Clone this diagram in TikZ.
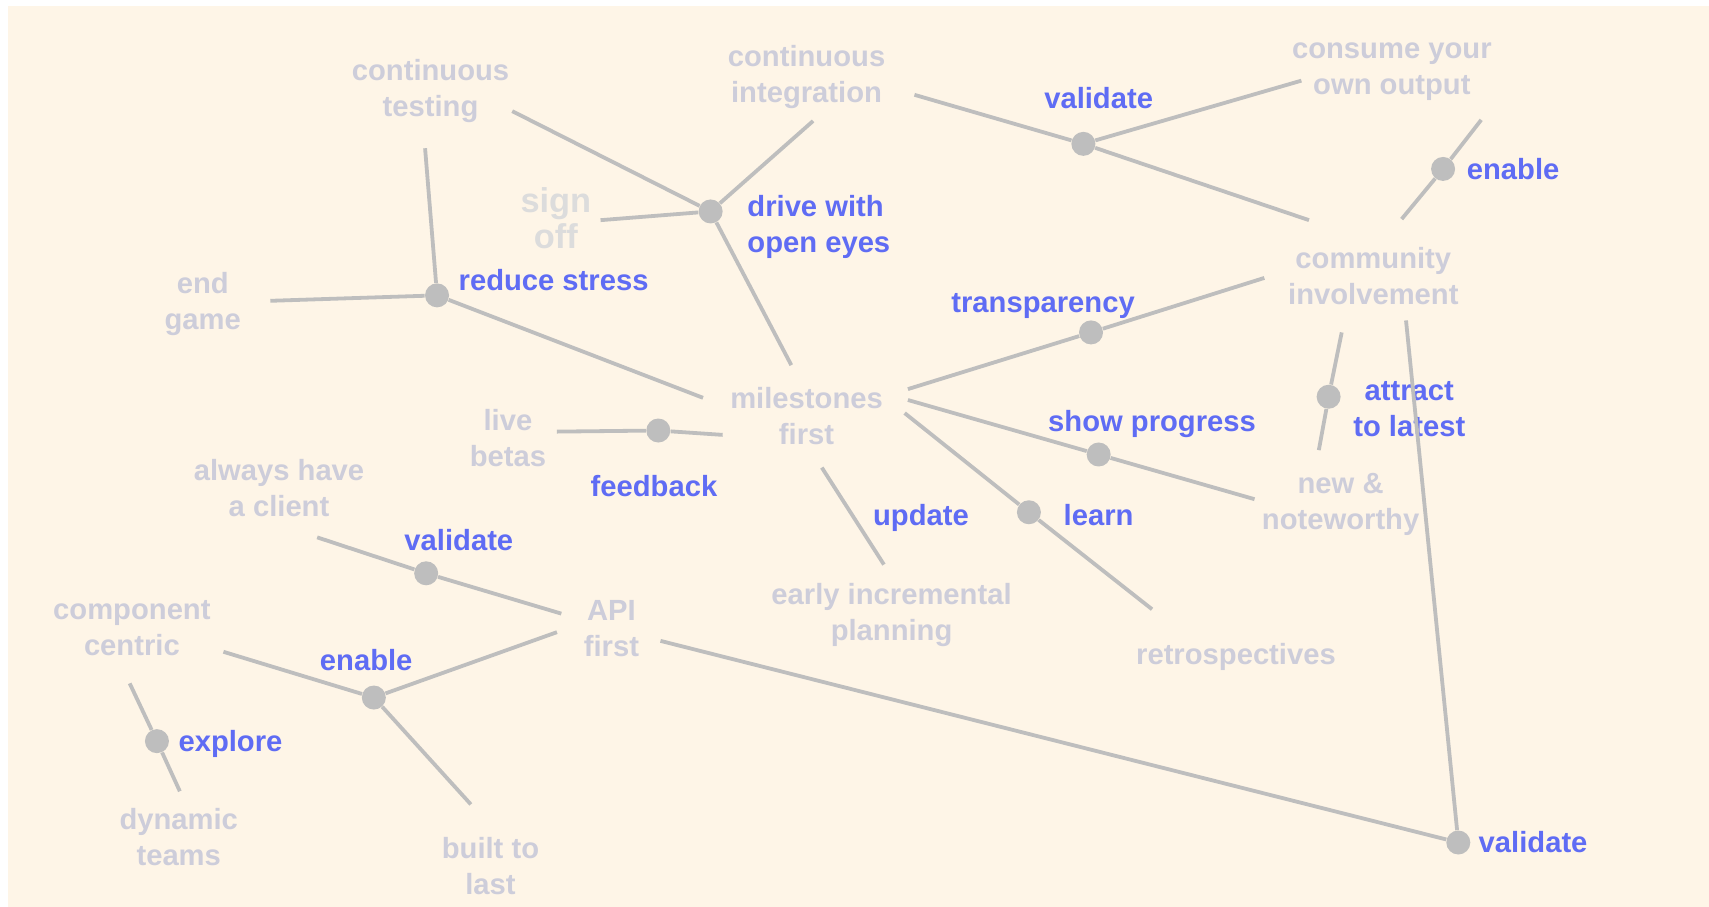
\documentclass[tikz,border=0pt]{standalone}
\usepackage{fontspec}
\setmainfont{Liberation Sans}
\usetikzlibrary{positioning}

\definecolor{paper}{HTML}{FEF5E7}
\definecolor{linegray}{HTML}{BEBEBE}
\definecolor{ideagray}{HTML}{CDCDDA}
\definecolor{faintgray}{HTML}{DCDCDC}
\definecolor{actblue}{HTML}{5F6CF4}

\begin{document}
\begin{tikzpicture}[
    x=0.545pt, y=-0.545pt,
    idea/.style={font=\fontsize{14.6}{18}\selectfont\bfseries, text=ideagray, align=center, inner sep=0pt, yshift=-1.6pt},
    faint/.style={idea, font=\fontsize{17.2}{18}\selectfont\bfseries, text=faintgray},
    act/.style={font=\fontsize{14.6}{18}\selectfont\bfseries, text=actblue, align=left, inner sep=0pt, yshift=-1.6pt},
    hub/.style={circle, fill=linegray, inner sep=0pt, minimum size=12pt},
    link/.style={draw=linegray, line width=1.9pt}
]
\fill[paper] (7,5.5) rectangle (1568,832);
\useasboundingbox (0,0) rectangle (1568,832);

% topics
\node[idea] (ctest) at (395,81) {continuous\\testing};
\node[idea] (cint) at (740,68) {continuous\\integration};
\node[idea] (consume) at (1277,63) {consume your\\own output};
\node[faint] (signoff) at (510,197) {sign\\off};
\node[idea] (community) at (1260,250) {community\\involvement};
\node[idea] (endgame) at (186,276) {end\\game};
\node[idea] (milestones) at (740,379) {milestones\\first};
\node[idea] (betas) at (466,399) {live\\betas};
\node[idea] (newnote) at (1230,460) {new \&\\noteworthy};
\node[idea] (client) at (256,445) {always have\\a client};
\node[idea] (component) at (121,573) {component\\centric};
\node[idea] (api) at (561,574) {API\\first};
\node[idea] (planning) at (818,561) {early incremental\\planning};
\node[idea] (retro) at (1134,600) {retrospectives};
\node[idea] (teams) at (164,765) {dynamic\\teams};
\node[idea] (built) at (450,792) {built to\\last};

% hubs
\node[hub] (d1) at (652,194) {};
\node[hub] (d2) at (401,271) {};
\node[hub] (d3) at (994,132) {};
\node[hub] (d4) at (1324,155) {};
\node[hub] (d5) at (1001,305) {};
\node[hub] (d6) at (604,395) {};
\node[hub] (d7) at (1219,364) {};
\node[hub] (d8) at (1008,417) {};
\node[hub] (d9) at (944,470) {};
\node[hub] (d10) at (391,526) {};
\node[hub] (d11) at (343,640) {};
\node[hub] (d12) at (144,680) {};
\node[hub] (d13) at (1338,773) {};

% relations
\node[act, right=12pt of d1, yshift=-6pt] (drive) {drive with\\open eyes};
\node[act, right=4.4pt of d2, yshift=9.2pt] (reduce) {reduce stress};
\node[act] (validate1) at (1008,87) {validate};
\node[act, right=5.5pt of d4, yshift=1.6pt] (enable1) {enable};
\node[act] (transp) at (957,278) {transparency};
\node[act] (feedback) at (600,443) {feedback};
\node[act, align=center] (attract) at (1293,372) {attract\\to latest};
\node[act] (showprog) at (1057,386) {show progress};
\node[act] (validate2) at (421,493) {validate};
\node[act] (update) at (845,472) {update};
\node[act, right=11pt of d9] (learn) {learn};
\node[act] (enable2) at (336,603) {enable};
\node[act, right=4.4pt of d12] (explore) {explore};
\node[act, right=3.8pt of d13, yshift=1.6pt] (validate3) {validate};

% line ends
\coordinate (ctest-a) at (470,102);
\coordinate (ctest-b) at (390,136);
\coordinate (cint-a) at (746,111);
\coordinate (cint-b) at (839,87);
\coordinate (sign-a) at (551,202);
\coordinate (mile-a) at (726,335);
\coordinate (mile-b) at (645,365);
\coordinate (mile-c) at (833,357);
\coordinate (mile-d) at (663,399);
\coordinate (mile-e) at (833,367);
\coordinate (mile-f) at (830,379);
\coordinate (mile-g) at (754,429);
\coordinate (plan-a) at (811,518);
\coordinate (end-a) at (248,276);
\coordinate (cons-a) at (1194,74);
\coordinate (cons-b) at (1359,110);
\coordinate (comm-a) at (1201,202);
\coordinate (comm-b) at (1286,201);
\coordinate (comm-c) at (1160,255);
\coordinate (comm-d) at (1231,305);
\coordinate (comm-e) at (1290,294);
\coordinate (beta-a) at (511,396);
\coordinate (new-a) at (1210,413);
\coordinate (new-b) at (1151,458);
\coordinate (retro-a) at (1057,559);
\coordinate (client-a) at (291,493);
\coordinate (api-a) at (515,563);
\coordinate (api-b) at (511,580);
\coordinate (api-c) at (606,588);
\coordinate (comp-a) at (205,598);
\coordinate (comp-b) at (119,627);
\coordinate (built-a) at (432,738);
\coordinate (teams-a) at (165,726);

\draw[link] (ctest-a) -- (d1) -- (cint-a);
\draw[link] (sign-a) -- (d1) -- (mile-a);
\draw[link] (ctest-b) -- (d2) -- (mile-b);
\draw[link] (end-a) -- (d2);
\draw[link] (cint-b) -- (d3) -- (cons-a);
\draw[link] (d3) -- (comm-a);
\draw[link] (comm-b) -- (d4) -- (cons-b);
\draw[link] (mile-c) -- (d5) -- (comm-c);
\draw[link] (beta-a) -- (d6) -- (mile-d);
\draw[link] (comm-d) -- (d7) -- (new-a);
\draw[link] (mile-e) -- (d8) -- (new-b);
\draw[link] (mile-f) -- (d9) -- (retro-a);
\draw[link] (mile-g) -- (plan-a);
\draw[link] (client-a) -- (d10) -- (api-a);
\draw[link] (comp-a) -- (d11) -- (api-b);
\draw[link] (d11) -- (built-a);
\draw[link] (comp-b) -- (d12) -- (teams-a);
\draw[link] (api-c) -- (d13) -- (comm-e);
\end{tikzpicture}
\end{document}
